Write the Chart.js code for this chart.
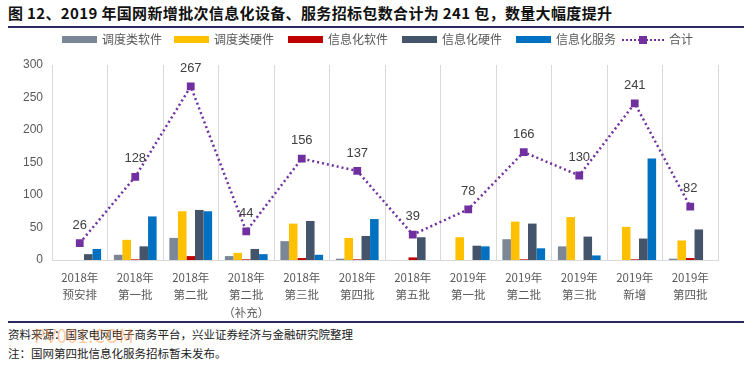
<!DOCTYPE html>
<html lang="zh">
<head>
<meta charset="UTF-8">
<title>国网信息化招标包数</title>
<script src="https://cdn.jsdelivr.net/npm/chart.js@4/dist/chart.umd.min.js"></script>
<style>
  body { margin: 0; width: 750px; height: 366px; background: #fff; position: relative; overflow: hidden;
         font-family: "Noto Sans CJK SC", "Noto Sans", sans-serif; }
  #title { position: absolute; left: 8px; top: 2px; font-size: 15px; letter-spacing: 0.35px; font-weight: bold; color: #111; white-space: nowrap; }
  .rule { position: absolute; left: 8px; width: 736px; height: 2px; background: #2b2a62; }
  #legend { position: absolute; top: 31px; left: 0; height: 16px; font-size: 12px; color: #595959; }
  #legend span.item { position: absolute; top: 0; white-space: nowrap; line-height: 16px; }
  #legend i { display: inline-block; width: 35px; height: 7px; vertical-align: middle; margin-right: 5px; margin-top: -2px; }
  #wrap { position: absolute; left: 0; top: 30px; width: 750px; height: 290px; }
  .note { position: absolute; left: 8px; font-size: 11.5px; color: #222; white-space: nowrap; }
  #wm { position: absolute; left: 34px; top: 322px; font-size: 18px; color: rgba(255,140,60,0.5); letter-spacing: 0.5px; }
</style>
</head>
<body>
<div id="title">图 12、2019 年国网新增批次信息化设备、服务招标包数合计为 241 包，数量大幅度提升</div>
<div class="rule" style="top:26px"></div>
<div id="wrap"><canvas id="c" width="750" height="290"></canvas></div>
<div id="legend"></div>
<div class="rule" style="top:321px"></div>
<div class="note" style="top:326px">资料来源：国家电网电子商务平台，兴业证券经济与金融研究院整理</div>
<div class="note" style="top:345px">注：国网第四批信息化服务招标暂未发布。</div>
<div id="wm">PV001.COM</div>
<script>
// 批次
const batches = [
  ['2018年', '预安排'], ['2018年', '第一批'], ['2018年', '第二批'], ['2018年', '第二批', '（补充）'],
  ['2018年', '第三批'], ['2018年', '第四批'], ['2018年', '第五批'], ['2019年', '第一批'],
  ['2019年', '第二批'], ['2019年', '第三批'], ['2019年', '新增'], ['2019年', '第四批']
];
// 各类包数
const ddSoft  = [0,  8, 34, 6, 29,  2, 0,  0, 32, 21,   0,  2];  // 调度类软件
const ddHard  = [0, 31, 75, 11, 56, 34, 0, 35, 59, 66,  51, 30];  // 调度类硬件
const xxSoft  = [0,  1,  6, 1,  3,  1, 4,  0,  1,  0,   1,  3];  // 信息化软件
const xxHard  = [9, 21, 77, 17, 60, 37, 35, 22, 56, 36, 33, 47];  // 信息化硬件
const xxServ  = [17, 67, 75, 9,  8, 63, 0, 21, 18,  7, 156,  0];  // 信息化服务
const total   = [26, 128, 267, 44, 156, 137, 39, 78, 166, 130, 241, 82]; // 合计
const yTicks  = [0, 50, 100, 150, 200, 250, 300];

const colors = ['#7b8796', '#ffc000', '#c00000', '#44546a', '#0070c0'];
const names = ['调度类软件', '调度类硬件', '信息化软件', '信息化硬件', '信息化服务'];
const series = [ddSoft, ddHard, xxSoft, xxHard, xxServ];

// legend
const lg = document.getElementById('legend');
const lx = [62, 174, 288, 402, 516];
names.forEach((n, i) => {
  const s = document.createElement('span');
  s.className = 'item';
  s.style.left = lx[i] + 'px';
  s.innerHTML = '<i style="background:' + colors[i] + '"></i>' + n;
  lg.appendChild(s);
});
const sl = document.createElement('span');
sl.className = 'item';
sl.style.left = '622px';
sl.innerHTML = '<span style="display:inline-block;position:relative;width:42px;height:16px;vertical-align:middle;margin-right:5px;margin-top:-2px">' +
  '<span style="position:absolute;left:0;top:7px;width:42px;border-top:2px dotted #7030a0"></span>' +
  '<span style="position:absolute;left:17px;top:4px;width:8px;height:8px;background:#7030a0"></span></span>合计';
lg.appendChild(sl);

const datasets = series.map((d, i) => ({
  type: 'bar', label: names[i], data: d, backgroundColor: colors[i],
  barPercentage: 1, categoryPercentage: 0.77, order: 2
}));
datasets.push({
  type: 'line', label: '合计', data: total, borderColor: '#7030a0', borderWidth: 2.5,
  borderDash: [2, 3], pointStyle: 'rect', pointRadius: 5.5, pointBackgroundColor: '#7030a0',
  pointBorderWidth: 0, fill: false, tension: 0, order: 1
});

const labelPlugin = {
  id: 'totLabels',
  afterDatasetsDraw(chart) {
    const ctx = chart.ctx;
    const meta = chart.getDatasetMeta(5);
    ctx.save();
    ctx.font = '13px "Liberation Sans", Arial, sans-serif';
    ctx.fillStyle = '#404040';
    ctx.textAlign = 'center';
    ctx.textBaseline = 'middle';
    meta.data.forEach((p, i) => ctx.fillText(String(total[i]), p.x, p.y - 18));
    ctx.restore();
  }
};

new Chart(document.getElementById('c'), {
  data: { labels: batches, datasets: datasets },
  options: {
    responsive: false, animation: false,
    layout: { padding: { top: 35, right: 32, left: 0, bottom: 0 } },
    plugins: { legend: { display: false }, tooltip: { enabled: false } },
    scales: {
      x: {
        grid: { offset: true, color: '#d9d9d9', drawTicks: false },
        border: { color: '#d9d9d9' },
        ticks: { color: '#595959', padding: 9, maxRotation: 0, autoSkip: false,
                 font: { size: 11.5, family: '"Noto Sans CJK SC", sans-serif', lineHeight: 1.5 } },
        afterFit: s => { s.height = 60; }
      },
      y: {
        min: 0, max: 300,
        afterBuildTicks: s => { s.ticks = yTicks.map(v => ({ value: v })); },
        grid: { display: false, drawTicks: false },
        border: { display: false },
        ticks: { color: '#595959', padding: 9, font: { size: 12, family: '"Liberation Sans", Arial, sans-serif' } },
        afterFit: s => { s.width = 52; }
      }
    }
  },
  plugins: [labelPlugin]
});
</script>
</body>
</html>
